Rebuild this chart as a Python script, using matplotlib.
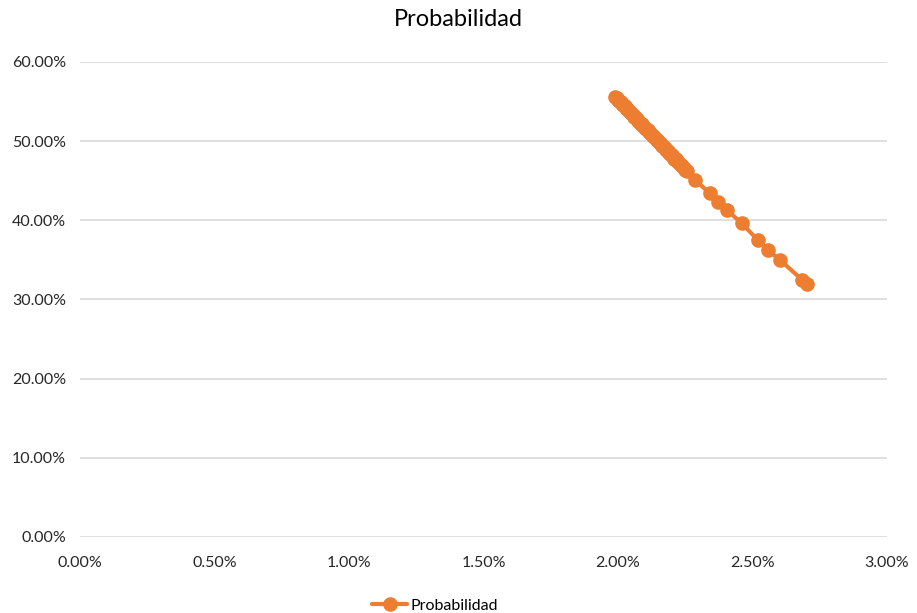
import numpy as np
import matplotlib.pyplot as plt
from matplotlib.ticker import FuncFormatter

plt.rcParams['font.family'] = ['Lato', 'DejaVu Sans']

tasa = [1.990, 1.995, 2.000, 2.005, 2.010, 2.015, 2.020, 2.025, 2.030, 2.035,
        2.040, 2.045, 2.050, 2.055, 2.060, 2.065, 2.070, 2.075, 2.080, 2.085,
        2.090, 2.095, 2.100, 2.105, 2.110, 2.115, 2.120, 2.125, 2.130, 2.135,
        2.140, 2.145, 2.150, 2.155, 2.160, 2.165, 2.170, 2.175, 2.180, 2.185,
        2.190, 2.195, 2.200, 2.205, 2.210, 2.215, 2.220, 2.225, 2.230, 2.235,
        2.240, 2.245, 2.250, 2.258, 2.286, 2.342, 2.372, 2.405, 2.461,
        2.520, 2.558, 2.602, 2.684, 2.703]
prob = [55.6, 55.4, 55.2, 55.1, 54.9, 54.7, 54.5, 54.4, 54.2, 54.0,
        53.8, 53.7, 53.5, 53.3, 53.1, 53.0, 52.8, 52.6, 52.4, 52.2,
        52.1, 51.9, 51.7, 51.5, 51.4, 51.2, 51.0, 50.8, 50.7, 50.5,
        50.3, 50.1, 50.0, 49.8, 49.6, 49.4, 49.2, 49.1, 48.9, 48.7,
        48.5, 48.4, 48.2, 48.0, 47.8, 47.7, 47.5, 47.3, 47.1, 47.0,
        46.8, 46.6, 46.4, 46.2, 45.1, 43.4, 42.3, 41.3, 39.6,
        37.5, 36.2, 35.0, 32.5, 32.0]

x = np.array(tasa) / 100
y = np.array(prob) / 100

fig = plt.figure(figsize=(9.17, 6.13), dpi=100)
ax = fig.add_axes([0.0872, 0.124, 0.88, 0.775])
ax.plot(x, y, color='#ED7D31', lw=3, marker='o', ms=9.5, label='Probabilidad',
        solid_capstyle='round')

ax.set_xlim(0, 0.03)
ax.set_ylim(0, 0.6)
ax.set_xticks(np.arange(0, 0.0301, 0.005))
ax.set_yticks(np.arange(0, 0.601, 0.1))
pct = FuncFormatter(lambda v, p: f'{v * 100:.2f}%')
ax.xaxis.set_major_formatter(pct)
ax.yaxis.set_major_formatter(pct)
ax.grid(axis='y', color='#d9d9d9', lw=1.2)
ax.set_axisbelow(True)
for s in ax.spines.values():
    s.set_visible(False)
ax.tick_params(length=0, labelsize=11.5, colors='#262626', pad=10)
ax.tick_params(axis='x', pad=14)

fig.suptitle('Probabilidad', y=0.985, fontsize=17, color='#000000')
ax.legend(loc='lower center', bbox_to_anchor=(0.44, -0.19), frameon=False,
          fontsize=11.5, handlelength=2.2, handletextpad=0.2)

fig.savefig('out.png', dpi=100)
